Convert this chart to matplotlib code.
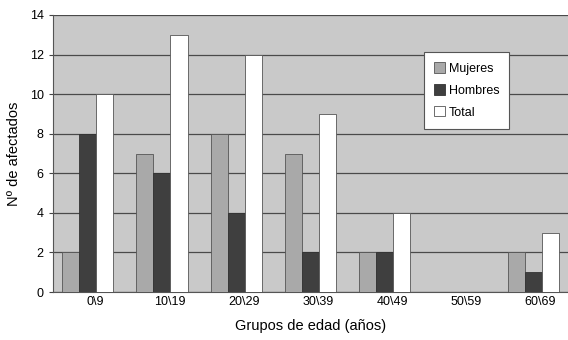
import numpy as np
import matplotlib.pyplot as plt

plt.rcParams['font.family'] = ['Liberation Sans', 'DejaVu Sans']

# age groups and counts
grupos = [r'0\9', r'10\19', r'20\29', r'30\39', r'40\49', r'50\59', r'60\69']
mujeres = [2, 7, 8, 7, 2, 0, 2]
hombres = [8, 6, 4, 2, 2, 0, 1]
total = [10, 13, 12, 9, 4, 0, 3]

x = np.arange(len(grupos))
w = 0.23

fig = plt.figure(figsize=(5.68, 3.4), dpi=100)
ax = fig.add_axes([0.093, 0.141, 0.907, 0.815])
ax.set_facecolor('#c9c9c9')

ax.bar(x - w, mujeres, w, color='#a9a9a9', edgecolor='#555555', linewidth=0.6, label='Mujeres', zorder=3)
ax.bar(x, hombres, w, color='#3f3f3f', edgecolor='#333333', linewidth=0.6, label='Hombres', zorder=3)
ax.bar(x + w, total, w, color='white', edgecolor='#555555', linewidth=0.6, label='Total', zorder=3)

ax.set_xlim(-0.47, 6.47)
ax.set_ylim(0, 14)
ax.set_yticks(range(0, 15, 2))
ax.set_xticks(x + 0.1)
ax.set_xticklabels(grupos, fontsize=9)
ax.tick_params(axis='x', length=0, pad=3)
ax.tick_params(axis='y', labelsize=9, length=3, color='#444444')
ax.yaxis.grid(True, color='#4a4a4a', linewidth=0.9, zorder=1)

for side in ['top', 'right']:
    ax.spines[side].set_visible(False)
ax.spines['left'].set_color('#555555')
ax.spines['bottom'].set_color('#555555')

ax.set_xlabel('Grupos de edad (años)', fontsize=10.5, labelpad=8)
ax.set_ylabel('Nº de afectados', fontsize=10.5, labelpad=6)

leg = ax.legend(loc='upper left', bbox_to_anchor=(0.72, 0.865), fontsize=9,
                frameon=True, fancybox=False, edgecolor='#555555', facecolor='white', framealpha=1,
                handlelength=0.9, handleheight=0.9, handletextpad=0.3,
                labelspacing=0.75, borderpad=0.8, borderaxespad=0)
leg.get_frame().set_linewidth(0.8)
leg.set_zorder(5)
# widen the box a bit to the right, as in the reference
leg._legend_box.align = 'left'

fig.savefig('out.png', dpi=100)
